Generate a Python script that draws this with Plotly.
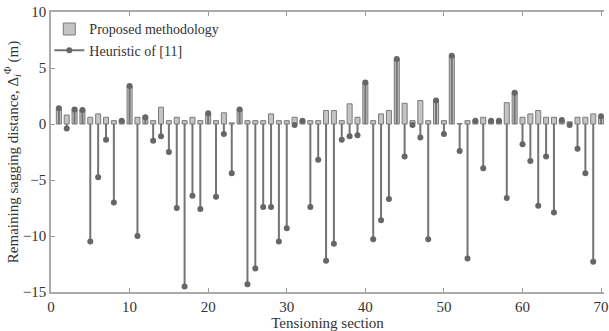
import plotly.graph_objects as go

sections = list(range(1, 71))
proposed = [1.4, 0.8, 1.3, 1.25, 0.6, 0.9, 0.6, 0.3, 0.3, 3.4,
            0.6, 0.6, 0.3, 1.5, 0.3, 0.6, 0.3, 0.6, 0.3, 0.95,
            0.3, 1.0, 0.1, 1.3, 0.3, 0.3, 0.3, 0.9, 0.3, 0.3,
            0.6, 0.3, 0.3, 0.3, 1.2, 1.2, 0.3, 1.8, 0.6, 3.7,
            0.3, 0.9, 1.2, 5.8, 1.85, 0.3, 2.1, 0.3, 2.1, 0.3,
            6.1, 0.05, 0.3, 0.3, 0.6, 0.3, 0.3, 1.9, 2.8, 0.6,
            0.9, 1.2, 0.6, 0.6, 0.35, 0.2, 0.6, 0.6, 0.9, 0.7]
heuristic = [1.4, -0.4, 1.3, 1.25, -10.5, -4.75, -1.4, -7.0, 0.3, 3.4,
             -10.0, 0.6, -1.5, -1.1, -2.5, -7.5, -14.5, -6.4, -7.6, 0.95,
             -6.5, -0.9, -4.4, 1.3, -14.3, -12.9, -7.4, -7.4, -10.5, -9.3,
             -0.1, 0.3, -7.4, -3.2, -12.2, -10.7, -1.4, -1.1, -1.0, 3.7,
             -10.3, -8.6, -6.7, 5.8, -2.9, -0.1, -1.2, -10.3, 2.1, -0.9,
             6.1, -2.4, -12.0, 0.3, -3.95, 0.3, 0.3, -6.6, 2.8, -1.8,
             -3.3, -7.3, -2.9, -7.9, 0.35, -0.1, -2.2, -4.4, -12.3, 0.7]
x_ticks = [0, 10, 20, 30, 40, 50, 60, 70]
y_ticks = [-15, -10, -5, 0, 5, 10]

# stem segments built from the data
sx, sy = [], []
for s, h in zip(sections, heuristic):
    sx += [s, s, None]
    sy += [0, h, None]

fig = go.Figure()
fig.add_trace(go.Bar(
    x=sections, y=proposed, name="Proposed methodology", width=0.64,
    marker=dict(color="#c4c4c4", line=dict(color="#7a7a7a", width=1)),
))
fig.add_trace(go.Scatter(
    x=sx, y=sy, mode="lines", name="Heuristic of [11]", showlegend=False,
    legendgroup="h", line=dict(color="#747474", width=2), hoverinfo="skip",
))
fig.add_trace(go.Scatter(
    x=sections, y=heuristic, mode="markers", name="Heuristic of [11]",
    showlegend=False, legendgroup="h",
    marker=dict(color="#666666", size=6, symbol="circle"),
))
fig.add_trace(go.Scatter(
    x=[None], y=[None], mode="lines+markers", name="Heuristic of [11]",
    legendgroup="h", line=dict(color="#747474", width=2),
    marker=dict(color="#666666", size=6, symbol="circle"),
))

font_family = "Liberation Serif, Times New Roman, serif"
fig.update_layout(
    width=609, height=331,
    margin=dict(l=51, r=0, t=12, b=39),
    paper_bgcolor="white", plot_bgcolor="white",
    font=dict(family=font_family, size=15, color="#333"),
    showlegend=True,
    legend=dict(x=-0.003, y=0.995, xanchor="left", yanchor="top",
                bgcolor="rgba(255,255,255,0)", font=dict(size=14),
                itemwidth=30, tracegroupgap=0),
    bargap=0.3,
)
fig.update_xaxes(
    range=[0, 70.37], tickvals=x_ticks, ticks="inside", ticklen=4,
    tickcolor="#999", showline=True, linecolor="#aaa", linewidth=1.5,
    mirror="ticks", showgrid=False, zeroline=False,
    ticklabeloverflow="allow",
    title=dict(text="Tensioning section", standoff=0, font=dict(size=15)),
    tickfont=dict(size=15),
)
fig.update_yaxes(
    range=[-15, 10], tickvals=y_ticks, ticks="inside", ticklen=4,
    tickcolor="#999", showline=True, linecolor="#aaa", linewidth=1.5,
    mirror=False, showgrid=False, zeroline=False,
    title=dict(text="Remaining sagging distance, Δ<sub><i>i</i></sub><sup>Φ</sup> (m)",
               standoff=0, font=dict(size=15)),
    tickfont=dict(size=15),
)

fig.write_html("out.html")
